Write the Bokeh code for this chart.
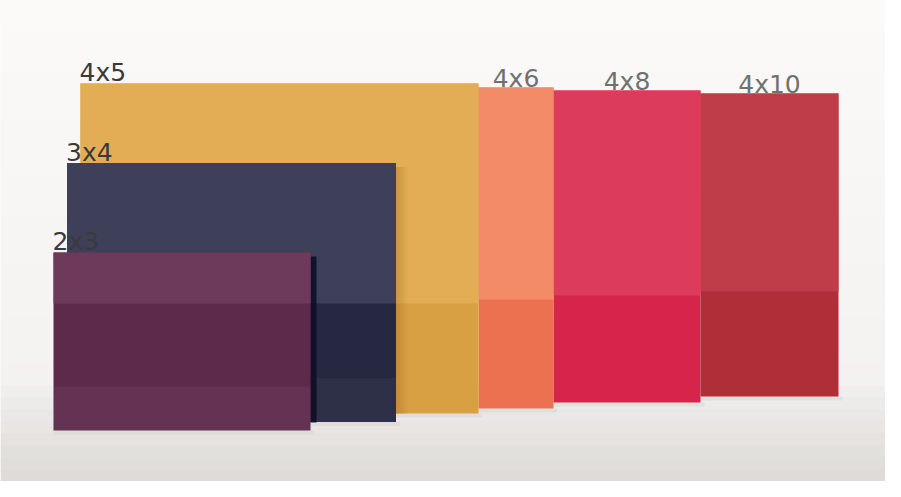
from bokeh.plotting import figure
from bokeh.models import Range1d
from bokeh.embed import file_html
from bokeh.resources import INLINE
from bokeh.core.properties import value

# ---- data (print sizes, panel sizes in px units) ----
nested_labels = ["4x5", "3x4", "2x3"]
nested_widths = [398, 329, 257]
nested_heights = [330, 259, 178]
nested_top_colors = ["#e2ad55", "#3e405a", "#6e3a5c"]
nested_low_colors = ["#d9a043", "#262841", "#5e2a4b"]

row_labels = ["4x6", "4x8", "4x10"]
row_widths = [75, 147, 138]
row_heights = [321, 312, 303]
row_top_colors = ["#f38a68", "#dd3b5c", "#bf3d48"]
row_low_colors = ["#ec7150", "#d6254a", "#b02e38"]

# ---- layout constants ----
W, H = 885, 481
nest_left0, nest_step = 80, -13.5
nest_bottom0, nest_bstep = 413, 8.5
row_left0 = 478
row_bottom0, row_bstep = 408, -6
horizon = 299

p = figure(width=W, height=H, x_range=Range1d(0, W), y_range=Range1d(H, 0),
           output_backend="svg", toolbar_location=None, min_border=0)
p.axis.visible = False
p.grid.visible = False
p.outline_line_color = None
p.background_fill_color = "#f9f7f5"
p.border_fill_color = "#f9f7f5"

# background / floor gradient
def mix(c1, c2, t):
    a = [int(c1[i:i + 2], 16) for i in (1, 3, 5)]
    b = [int(c2[i:i + 2], 16) for i in (1, 3, 5)]
    return "#%02x%02x%02x" % tuple(round(a[k] + (b[k] - a[k]) * t) for k in range(3))

n = 40
for i in range(n):
    y_a = H * i / n
    y_b = H * (i + 1) / n
    ym = (y_a + y_b) / 2
    if ym < 390:
        c = mix("#fbfaf8", "#f4f2f0", ym / 390)
    else:
        c = mix("#f0eeec", "#dedbd8", min(1, (ym - 390) / 80))
    p.quad(left=0, right=W, top=y_a, bottom=y_b + 0.5, fill_color=c, line_color=None)

FONT = value("DejaVu Sans")

# row panels (back)
lefts = []
cur = row_left0
for w in row_widths:
    lefts.append(cur)
    cur += w
for i in reversed(range(len(row_labels))):
    l = lefts[i]
    r = l + row_widths[i]
    b = row_bottom0 + row_bstep * i
    t = b - row_heights[i]
    p.quad(left=l, right=r + 4, top=b, bottom=b + 4, fill_color="#d3cfcb", fill_alpha=0.4, line_color=None)
    p.quad(left=l, right=r, top=t, bottom=b, fill_color=row_low_colors[i], line_color=None)
    p.quad(left=l, right=r, top=t, bottom=horizon - 4 * i, fill_color=row_top_colors[i], line_color=None)
    p.text(x=[(l + r) / 2], y=[t - 9], text=[row_labels[i]], text_align="center", text_baseline="alphabetic",
           text_font=FONT, text_font_size="25px", text_color="#707070")

# nested panels (front), back to front
for i in range(len(nested_labels)):
    l = nest_left0 + nest_step * i
    r = l + nested_widths[i]
    b = nest_bottom0 + nest_bstep * i
    t = b - nested_heights[i]
    p.quad(left=l, right=r + 4, top=b, bottom=b + 4, fill_color="#d3cfcb", fill_alpha=0.4, line_color=None)
    if i == 1:
        for k in range(6):
            p.quad(left=r + k * 2, right=r + k * 2 + 2, top=t + 4, bottom=b - 8, fill_color="#7a4a10",
                   fill_alpha=0.22 * (1 - k / 6), line_color=None)
    if i == 2:
        p.quad(left=r, right=r + 6, top=t + 4, bottom=b - 8, fill_color="#0e0a26",
               fill_alpha=0.85, line_color=None)
    p.quad(left=l, right=r, top=t, bottom=b, fill_color=nested_low_colors[i], line_color=None)
    p.quad(left=l, right=r, top=t, bottom=horizon + 4, fill_color=nested_top_colors[i], line_color=None)
    if i > 0:
        p.quad(left=l, right=r, top=b - 44, bottom=b, fill_color="#ffffff", fill_alpha=0.04, line_color=None)
    p.text(x=[l - 1], y=[t - 11], text=[nested_labels[i]], text_align="left", text_baseline="alphabetic",
           text_font=FONT, text_font_size="25px", text_color="#3a3a3a")

open("out.html", "w").write(file_html(p, INLINE))
